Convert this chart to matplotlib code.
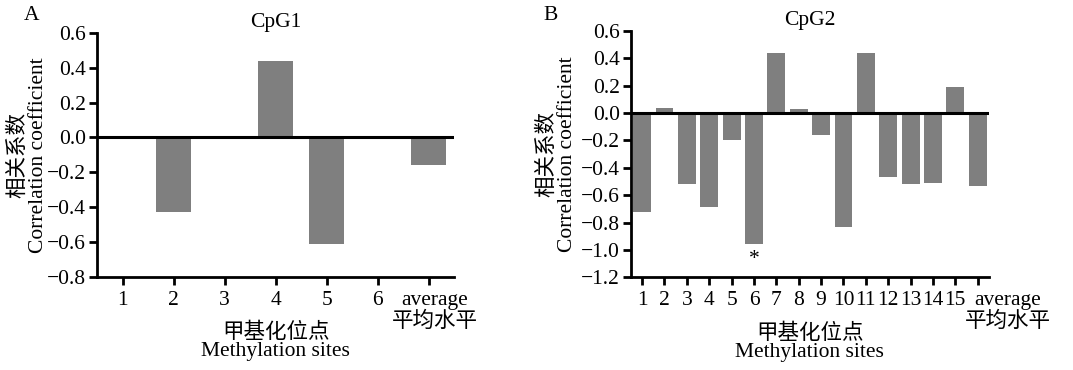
import numpy as np
import matplotlib
matplotlib.use("Agg")
import matplotlib.pyplot as plt
from matplotlib import transforms

plt.rcParams['font.family'] = ['Liberation Serif', 'Noto Sans CJK SC']

# data
labels_a = ["1", "2", "3", "4", "5", "6", "average\n平均水平"]
values_a = [0.0, -0.43, 0.0, 0.44, -0.61, 0.0, -0.16]

labels_b = [str(i) for i in range(1, 16)] + ["average\n平均水平"]
values_b = [-0.72, 0.04, -0.52, -0.69, -0.20, -0.96, 0.44, 0.03,
            -0.16, -0.83, 0.44, -0.47, -0.52, -0.51, 0.19, -0.53]
star_site = 6

bar_color = "#7f7f7f"
fs = 15.5

fig = plt.figure(figsize=(10.73, 3.7), dpi=100)
ax1 = fig.add_axes([0.0904, 0.2514, 0.333, 0.660])
ax2 = fig.add_axes([0.588, 0.2505, 0.3336, 0.666])


def fmt(v):
    s = "%.1f" % abs(v)
    return ("\u2212" + s) if v < -1e-9 else s


def style(ax, labels, values, width, ylim, yticks, title, letter, lx, ylx, avg_shift):
    x = np.arange(1, len(values) + 1)
    ax.bar(x, values, width=width, color=bar_color, zorder=2)
    ax.axhline(0, color="black", lw=2.2, zorder=3)
    ax.set_xlim(0.5, len(values) + 0.5)
    ax.set_ylim(*ylim)
    ax.set_yticks(yticks)
    ax.set_yticklabels([fmt(v) for v in yticks])
    ax.set_xticks(x)
    ax.set_xticklabels(labels, linespacing=1.1)
    ax.spines["top"].set_visible(False)
    ax.spines["right"].set_visible(False)
    ax.spines["left"].set_linewidth(2)
    ax.spines["bottom"].set_linewidth(2)
    ax.tick_params(axis="y", direction="out", length=6, width=2, labelsize=fs, pad=2)
    ax.tick_params(axis="x", direction="out", length=6, width=2, labelsize=fs, pad=4)
    # last label ("average") sits a little right of its tick
    last = ax.get_xticklabels()[-1]
    last.set_transform(last.get_transform() +
                       transforms.ScaledTranslation(avg_shift / 100, 0, fig.dpi_scale_trans))
    # two-line axis labels
    ax.text(ylx[0], 0.5, "相关系数", transform=ax.transAxes, rotation=90,
            ha="center", va="center", fontsize=fs)
    ax.text(ylx[1], 0.5, "Correlation coefficient", transform=ax.transAxes, rotation=90,
            ha="center", va="center", fontsize=fs)
    ax.text(0.5, -0.228, "甲基化位点", transform=ax.transAxes,
            ha="center", va="center", fontsize=fs)
    ax.text(0.5, -0.305, "Methylation sites", transform=ax.transAxes,
            ha="center", va="center", fontsize=fs)
    ax.set_title(title, fontsize=fs, pad=4)
    fig.text(lx, 0.957, letter, fontsize=fs, ha="left", va="center")
    return x


style(ax1, labels_a, values_a, 0.68, (-0.8, 0.6), np.arange(-0.8, 0.61, 0.2),
      "CpG1", "A", 0.022, (-0.221, -0.165), 6)
xb = style(ax2, labels_b, values_b, 0.8, (-1.2, 0.6), np.arange(-1.2, 0.61, 0.2),
           "CpG2", "B", 0.506, (-0.235, -0.176), 30)
ax2.text(star_site, values_b[star_site - 1] - 0.04, "*", ha="center", va="top", fontsize=fs)

fig.savefig("out.png", dpi=100)
